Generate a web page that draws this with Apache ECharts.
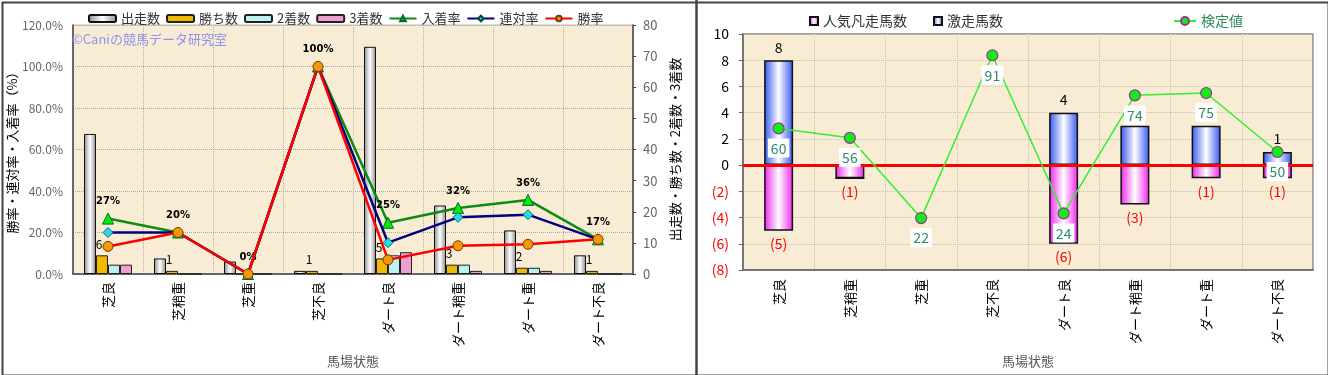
<!DOCTYPE html>
<html><head><meta charset="utf-8">
<script src="https://cdn.jsdelivr.net/npm/echarts@6/dist/echarts.min.js"></script>
<style>html,body{margin:0;padding:0;background:#fff}#c{width:1328px;height:375px}</style>
</head><body><div id="c"></div>
<script>
// ---- data ----
const categories = ['芝良','芝稍重','芝重','芝不良','ダート良','ダート稍重','ダート重','ダート不良'];
// left chart
const starts  = [45, 5, 4, 1, 73, 22, 14, 6];
const wins    = [6, 1, 0, 1, 5, 3, 2, 1];
const seconds = [3, 0, 0, 0, 6, 3, 2, 0];
const thirds  = [3, 0, 0, 0, 7, 1, 1, 0];
const placeRate  = [0.267, 0.20, 0, 1.0, 0.247, 0.318, 0.357, 0.167];
const rentaiRate = [0.20, 0.20, 0, 1.0, 0.151, 0.273, 0.286, 0.167];
const winRate    = [0.133, 0.20, 0, 1.0, 0.068, 0.136, 0.143, 0.167];
// right chart
const gekisou     = [8, 0, 0, 0, 4, 3, 3, 1];
const ninkiBonsou = [5, 1, 0, 0, 6, 3, 1, 1];
const kenteichi   = [60, 56, 22, 91, 24, 74, 75, 50];

const FONT = '"Noto Sans CJK JP", "Noto Sans", sans-serif';
const BG = '#f8edd4';
function hgrad(edge, mid) {
  return {type:'linear', x:0, y:0, x2:1, y2:0,
    colorStops:[{offset:0,color:edge},{offset:0.5,color:mid},{offset:1,color:edge}]};
}

const chart = echarts.init(document.getElementById('c'), null, {renderer:'canvas'});
const option = {
  animation: false,
  textStyle: {fontFamily: FONT},
  grid: [
    {left:73, right:695, top:25, bottom:101, show:true, backgroundColor:BG, borderColor:'#bbb', borderWidth:1},
    {left:743, right:15, top:34, bottom:105, show:true, backgroundColor:BG, borderColor:'#888', borderWidth:1.5}
  ],
  legend: [
    {left:83, top:7, itemWidth:27, itemHeight:7, itemGap:6,
     textStyle:{fontSize:13, color:'#333', fontFamily:FONT},
     data:['出走数','勝ち数','2着数','3着数','入着率','連対率','勝率']},
    {left:804, top:9, itemWidth:8, itemHeight:8, itemGap:26, icon:'rect',
     textStyle:{fontSize:14, color:'#333', fontFamily:FONT},
     data:['人気凡走馬数','激走馬数']},
    {left:1168, top:9, itemWidth:22, itemHeight:10,
     textStyle:{fontSize:14, color:'#2e8b57', fontFamily:FONT},
     data:['検定値']}
  ],
  graphic: [
    {type:'text', left:72, top:33, z:20, style:{text:'©Caniの競馬データ研究室', fill:'#8f8ff5', font:'13px '+FONT}},
    {type:'rect', left:0, top:0, shape:{x:1, y:1, width:1326, height:373}, style:{fill:null, stroke:'#444', lineWidth:2}, z:50},
    {type:'line', shape:{x1:696.5, y1:0, x2:696.5, y2:375}, style:{stroke:'#444', lineWidth:2.5}, z:50}
  ],
  xAxis: [
    {type:'category', gridIndex:0, data:categories,
     name:'馬場状態', nameLocation:'middle', nameGap:74,
     nameTextStyle:{fontSize:13, color:'#555', fontFamily:FONT},
     axisLine:{lineStyle:{color:'#444', width:1.5}}, axisTick:{show:false},
     axisLabel:{rotate:90, fontSize:13, color:'#000', margin:8, fontFamily:FONT},
     splitLine:{show:true, lineStyle:{color:'#b8b0a0', type:'dotted'}}},
    {type:'category', gridIndex:1, data:categories,
     name:'馬場状態', nameLocation:'middle', nameGap:85,
     nameTextStyle:{fontSize:13, color:'#555', fontFamily:FONT},
     axisLine:{onZero:false, lineStyle:{color:'#666', width:1.5}}, axisTick:{show:false},
     axisLabel:{rotate:90, fontSize:13, color:'#000', margin:9, fontFamily:FONT},
     splitLine:{show:true, lineStyle:{color:'#c8c0b0', type:'dotted'}}}
  ],
  yAxis: [
    {type:'value', gridIndex:0, min:0, max:1.2, interval:0.2, position:'left',
     name:'勝率・連対率・入着率（%）', nameLocation:'middle', nameRotate:90, nameGap:50,
     nameTextStyle:{fontSize:13, color:'#000', fontFamily:FONT},
     axisLine:{show:true, lineStyle:{color:'#444', width:1.5}}, axisTick:{show:false},
     axisLabel:{fontSize:12, color:'#666', margin:10, formatter:v=>(v*100).toFixed(1)+'%'},
     splitLine:{show:true, lineStyle:{color:'#b0a898', type:'dotted'}}},
    {type:'value', gridIndex:0, min:0, max:80, interval:10, position:'right',
     name:'出走数・勝ち数・2着数・3着数', nameLocation:'middle', nameRotate:90, nameGap:36,
     nameTextStyle:{fontSize:13, color:'#000', fontFamily:FONT},
     axisLine:{show:true, lineStyle:{color:'#444', width:1.5}}, axisTick:{show:true, inside:false, length:3, lineStyle:{color:'#444'}},
     axisLabel:{fontSize:13, color:'#666', margin:10},
     splitLine:{show:false}},
    {type:'value', gridIndex:1, min:-8, max:10, interval:2,
     axisLine:{show:true, lineStyle:{color:'#666', width:1.5}}, axisTick:{show:true, length:4, lineStyle:{color:'#666'}},
     axisLabel:{fontSize:14, margin:14,
       formatter:v=> v<0 ? '('+(-v)+')' : String(v),
       color:v=> Number(v)<0 ? '#ff0000' : '#000'},
     splitLine:{show:true, lineStyle:{color:'#c8c0b0', type:'dotted'}}},
    {type:'value', gridIndex:1, min:0, max:100, show:false, splitLine:{show:false}}
  ],
  series: [
    {name:'出走数', type:'bar', xAxisIndex:0, yAxisIndex:1, data:starts, barWidth:12, barGap:'0%', z:2,
     itemStyle:{color:hgrad('#8c8c8c','#ffffff'), borderColor:'#111', borderWidth:1}},
    {name:'勝ち数', type:'bar', xAxisIndex:0, yAxisIndex:1, data:wins, barWidth:12, barGap:'0%', z:2,
     itemStyle:{color:'#f0b800', borderColor:'#222', borderWidth:1},
     label:{show:true, position:'top', distance:5, offset:[-3,0], fontSize:12, color:'#000',
       formatter:p=> p.value>0 ? String(p.value) : ''}},
    {name:'2着数', type:'bar', xAxisIndex:0, yAxisIndex:1, data:seconds, barWidth:12, barGap:'0%', z:2,
     itemStyle:{color:'#bdf0f0', borderColor:'#222', borderWidth:1}},
    {name:'3着数', type:'bar', xAxisIndex:0, yAxisIndex:1, data:thirds, barWidth:12, barGap:'0%', z:2,
     itemStyle:{color:'#ef9fcf', borderColor:'#222', borderWidth:1}},
    {name:'入着率', type:'line', xAxisIndex:0, yAxisIndex:0, data:placeRate, z:4,
     lineStyle:{color:'#108a10', width:2.5}, symbol:'triangle', symbolSize:11,
     itemStyle:{color:'#00ee00', borderColor:'#063', borderWidth:1},
     label:{show:true, position:'top', distance:6, fontSize:10, fontWeight:'bold', color:'#000', fontFamily:'"DejaVu Sans", sans-serif',
       formatter:p=> Math.round(p.value*100)+'%'}},
    {name:'連対率', type:'line', xAxisIndex:0, yAxisIndex:0, data:rentaiRate, z:5,
     lineStyle:{color:'#000080', width:2.5}, symbol:'diamond', symbolSize:10,
     itemStyle:{color:'#22ddee', borderColor:'#044', borderWidth:0.8}},
    {name:'勝率', type:'line', xAxisIndex:0, yAxisIndex:0, data:winRate, z:6,
     lineStyle:{color:'#ff0000', width:2.5}, symbol:'circle', symbolSize:10,
     itemStyle:{color:'#f5960a', borderColor:'#7a3a00', borderWidth:1}},

    {name:'人気凡走馬数', type:'bar', xAxisIndex:1, yAxisIndex:2, stack:'r', barWidth:29, z:2,
     data:ninkiBonsou.map(v=>-v),
     itemStyle:{color:hgrad('#ee22ee','#ffffff'), borderColor:'#111', borderWidth:1.5},
     label:{show:true, position:'bottom', distance:6, fontSize:14, color:'#ff0000',
       formatter:p=> p.value<0 ? '('+(-p.value)+')' : ''}},
    {name:'激走馬数', type:'bar', xAxisIndex:1, yAxisIndex:2, stack:'r', barWidth:29, z:2,
     data:gekisou,
     itemStyle:{color:hgrad('#3355ee','#ffffff'), borderColor:'#111', borderWidth:1.5},
     label:{show:true, position:'top', distance:6, fontSize:14, color:'#000',
       formatter:p=> p.value>0 ? String(p.value) : ''},
     markLine:{silent:true, symbol:'none', label:{show:false}, lineStyle:{color:'#ff0000', width:3, type:'solid'},
       data:[{yAxis:0}]}},
    {name:'検定値', type:'line', xAxisIndex:1, yAxisIndex:3, data:kenteichi, z:10,
     lineStyle:{color:'#33ee33', width:1.5}, symbol:'circle', symbolSize:11,
     itemStyle:{color:'#11ee11', borderColor:'#993399', borderWidth:1.2},
     label:{show:true, position:'bottom', distance:4, fontSize:14, color:'#2e8b6a',
       backgroundColor:'#ffffff', padding:[3,3,2,3]}}
  ]
};
chart.setOption(option);
</script></body></html>
